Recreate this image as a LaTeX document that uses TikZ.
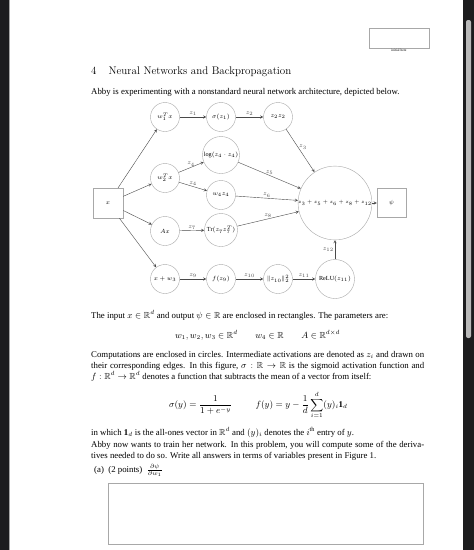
\documentclass[tikz,border=0pt]{standalone}
\usepackage{amsmath,amssymb}
\usepackage{fontspec}
\setmainfont{Liberation Serif}
\usetikzlibrary{positioning}
\newcommand\bodysize{\fontsize{8.8}{10.5}\selectfont}
\newcommand\nodesize{\fontsize{6.2}{7}\selectfont}
\newcommand\headfont{\fontfamily{lmr}\fontsize{11}{13}\selectfont}
\definecolor{chrome}{HTML}{1C1C1E}
\definecolor{rim}{HTML}{A8A8A8}
\definecolor{wire}{HTML}{4A4A4A}
\tikzset{
  txt/.style={anchor=base west,inner sep=0},
  neuron/.style={circle,draw=rim,inner sep=0,minimum size=29pt,font=\nodesize},
  io/.style={rectangle,draw=rim,inner sep=0,minimum size=30pt,font=\nodesize},
  lbl/.style={font=\fontsize{6.2}{7}\selectfont,inner sep=1pt},
}
\begin{document}
\begin{tikzpicture}[x=1pt,y=-1pt,>=stealth,font=\bodysize]
	\useasboundingbox (0,0) rectangle (474,550);
	% screen around the page
	\fill[chrome] (0,0) rectangle (474,550);
	\fill[white] (10,0) rectangle (463,550);
	\draw[gray!70,line width=0.8pt] (9.4,0)--(9.4,550);
	\fill[gray!55,rounded corners=2pt] (466,20) rectangle (471,338);
	% initial box
	\node[draw=rim,minimum width=60pt,minimum height=20pt,inner sep=0] (init) at (399,38) {};
	\node[below=1pt of init,inner sep=0,font=\fontsize{3.5}{4}\selectfont] (initlbl) {initial here};
	% heading and intro
	\node[txt,font=\headfont] (title) at (91,74) {4\hspace{12pt}Neural Networks and Backpropagation};
	\node[txt] (intro) at (91,94) {Abby is experimenting with a nonstandard neural network architecture, depicted below.};
	% network
	\node[io] (x) at (108,203) {$x$};
	\node[neuron] (lin1) at (165,117) {$w_1^T x$};
	\node[neuron] (sig) at (221,117) {$\sigma(z_1)$};
	\node[neuron] (sq) at (278,117) {$z_2 z_2$};
	\node[neuron,minimum size=37pt] (logn) at (221,155) {$\log(z_4\cdot z_4)$};
	\node[neuron] (lin2) at (165,178) {$w_2^T x$};
	\node[neuron] (scal) at (221,195) {$w_4 z_4$};
	\node[neuron] (Ax) at (165,231) {$Ax$};
	\node[neuron,minimum size=33pt] (tr) at (221,230) {$\mathrm{Tr}(z_7 z_7^T)$};
	\node[neuron] (shift) at (165,279) {$x+w_3$};
	\node[neuron] (cen) at (221,279) {$f(z_9)$};
	\node[neuron] (nrm) at (278,279) {$\|z_{10}\|_2^2$};
	\node[neuron,minimum size=39pt] (relu) at (335,279) {$\mathrm{ReLU}(z_{11})$};
	\node[neuron,minimum size=68pt,font=\fontsize{5.4}{6}\selectfont] (sum) at (335,203) {$z_3+z_5+z_6+z_8+z_{12}$};
	\node[io,minimum size=29pt] (psi) at (391.5,203) {$\psi$};
	\begin{scope}[wire,->]
		\draw (x)--(lin1);
		\draw (x)--(lin2);
		\draw (x)--(Ax);
		\draw (x)--(shift);
		\draw (lin1)--node[lbl,above]{$z_1$}(sig);
		\draw (sig)--node[lbl,above]{$z_2$}(sq);
		\draw (sq)--node[lbl,pos=0.42,right=0pt]{$z_3$}(sum);
		\draw (lin2)--node[lbl,above]{$z_4$}(logn);
		\draw (lin2)--node[lbl,above]{$z_4$}(scal);
		\draw (logn)--node[lbl,above]{$z_5$}(sum);
		\draw (scal)--node[lbl,above]{$z_6$}(sum);
		\draw (Ax)--node[lbl,above]{$z_7$}(tr);
		\draw (tr)--node[lbl,above]{$z_8$}(sum);
		\draw (shift)--node[lbl,above]{$z_9$}(cen);
		\draw (cen)--node[lbl,above]{$z_{10}$}(nrm);
		\draw (nrm)--node[lbl,above]{$z_{11}$}(relu);
		\draw (relu)--node[lbl,left]{$z_{12}$}(sum);
		\draw (sum)--(psi);
	\end{scope}
	% text below the figure
	\node[txt] (inout) at (91,318.5) {The input $x\in\mathbb{R}^d$ and output $\psi\in\mathbb{R}$ are enclosed in rectangles. The parameters are:};
	\node[anchor=base,inner sep=0] (params) at (257.5,338) {$w_1,w_2,w_3\in\mathbb{R}^d\qquad w_4\in\mathbb{R}\qquad A\in\mathbb{R}^{d\times d}$};
	\node[txt] (comp1) at (91,357) {\makebox[333pt][s]{Computations are enclosed in circles. Intermediate activations are denoted as $z_i$ and drawn on}};
	\node[txt] (comp2) at (91,368.5) {\makebox[333pt][s]{their corresponding edges. In this figure, $\sigma:\mathbb{R}\to\mathbb{R}$ is the sigmoid activation function and}};
	\node[txt] (comp3) at (91,379.5) {$f:\mathbb{R}^d\to\mathbb{R}^d$ denotes a function that subtracts the mean of a vector from itself:};
	\node[anchor=base,inner sep=0] (sigdef) at (200.5,407.5) {$\displaystyle\sigma(y)=\frac{1}{1+e^{-y}}$};
	\node[anchor=base,inner sep=0] (fdef) at (301.5,407.5) {$\displaystyle f(y)=y-\frac{1}{d}\sum_{i=1}^{d}(y)_i\mathbf{1}_d$};
	\node[txt] (ones) at (91,435) {in which $\mathbf{1}_d$ is the all-ones vector in $\mathbb{R}^d$ and $(y)_i$ denotes the $i^{\text{th}}$ entry of $y$.};
	\node[txt] (train1) at (91,447) {\makebox[333pt][s]{Abby now wants to train her network. In this problem, you will compute some of the deriva-}};
	\node[txt] (train2) at (91,458.5) {tives needed to do so. Write all answers in terms of variables present in Figure 1.};
	\node[txt] (parta) at (94,472.5) {(a)\ \ (2 points)\ \ $\frac{\partial\psi}{\partial w_1}$};
	\node[draw=rim,minimum width=315pt,minimum height=61pt,inner sep=0] (ans) at (265.5,513.5) {};
\end{tikzpicture}
\end{document}
